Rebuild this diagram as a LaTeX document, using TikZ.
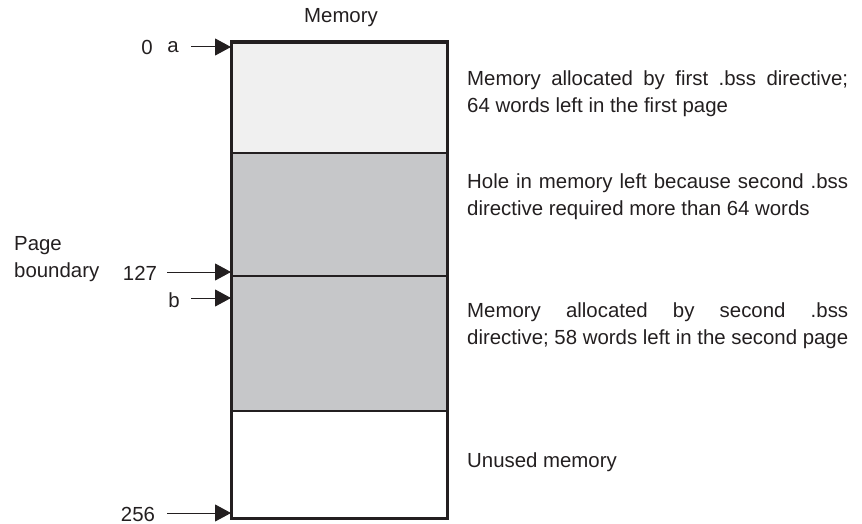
\documentclass[tikz,border=0pt]{standalone}
\usepackage{fontspec}
\setmainfont{Liberation Sans}
\usetikzlibrary{arrows.meta}
\definecolor{lightfill}{HTML}{F0F0F0}
\definecolor{midfill}{HTML}{C6C7C9}
\definecolor{inkc}{HTML}{231F20}
\begin{document}
\begin{tikzpicture}[x=1pt,y=-1pt,
  region/.style={draw=inkc,line width=1.5pt,minimum width=216pt,anchor=north west,inner sep=0pt,outer sep=0pt},
  lbl/.style={inner sep=0pt,font=\fontsize{20.4}{27}\selectfont,text=inkc},
  desc/.style={lbl,anchor=west,align=left},
  ptr/.style={draw=inkc,line width=1pt,-{Triangle[length=16pt,width=17pt]}}]
\useasboundingbox (0,0) rectangle (862,524);
\node[region,fill=lightfill,minimum height=111pt] (r1) at (231,42) {};
\node[region,fill=midfill,minimum height=123pt] (r2) at (231,153) {};
\node[region,fill=midfill,minimum height=135pt] (r3) at (231,276) {};
\node[region,fill=white,minimum height=107pt] (r4) at (231,411) {};
\draw[draw=inkc,line width=3pt] (r1.north west) rectangle (r4.south east);
\draw[draw=inkc,line width=1.5pt] ([yshift=-1.5pt]r1.north west) -- ([yshift=-1.5pt]r1.north east);
\node[lbl] (mem) at (341,18) {Memory};
\node[lbl] (n0) at (147,47) {0};
\node[lbl] (na) at (173,47) {a};
\node[lbl] (n127) at (140,273) {127};
\node[lbl] (nb) at (174,300) {b};
\node[lbl] (n256) at (138,514) {256};
\node[lbl,anchor=west,align=left] (pb) at (14,259) {Page\\boundary};
\coordinate (ta) at (191,47);
\coordinate (t127) at (167,272);
\coordinate (tb) at (191,298);
\coordinate (t256) at (167,513);
\draw[ptr] (ta) -- ([yshift=-5pt]r1.north west);
\draw[ptr] (t127) -- ([yshift=4pt]r3.north west);
\draw[ptr] (tb) -- ([yshift=-22pt]r3.north west);
\draw[ptr] (t256) -- ([yshift=5pt]r4.south west);
\node[desc] (d1) at (467,93.5) {\makebox[381pt][s]{Memory allocated by first .bss directive;}\\64 words left in the first page};
\node[desc] (d2) at (467,196.5) {\makebox[381pt][s]{Hole in memory left because second .bss}\\directive required more than 64 words};
\node[desc] (d3) at (467,325.5) {\makebox[381pt][s]{Memory allocated by second .bss}\\directive; 58 words left in the second page};
\node[desc] (d4) at (467,462) {Unused memory};
\end{tikzpicture}
\end{document}
